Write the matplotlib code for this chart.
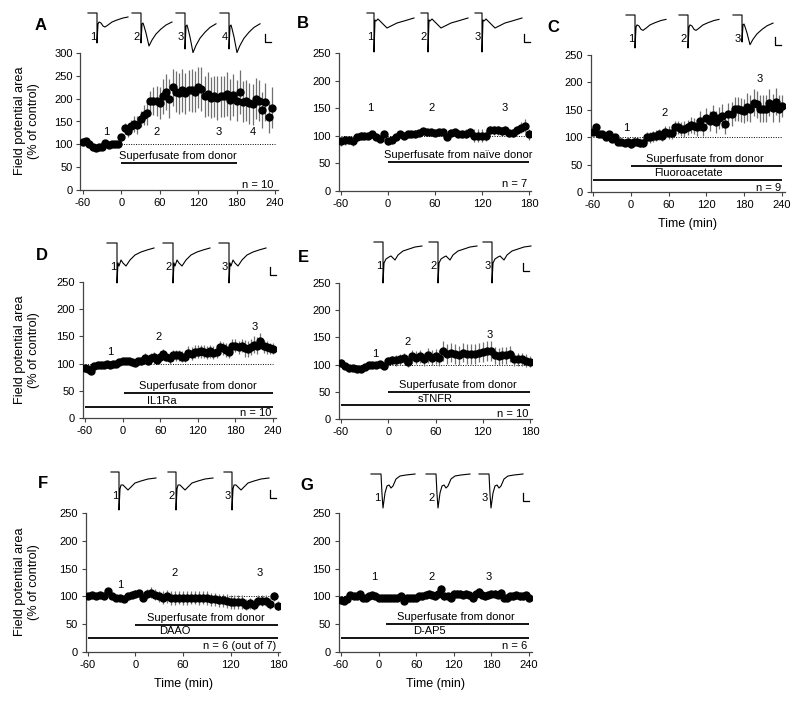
import numpy as np
import matplotlib
matplotlib.use('Agg')
import matplotlib.pyplot as plt

plt.rcParams['font.family'] = ['Liberation Sans', 'DejaVu Sans']
plt.rcParams['font.size'] = 7.5
plt.rcParams['axes.unicode_minus'] = False

# ---- time grids (sampling every 5 min) ----
t_240 = np.arange(-60, 245, 5)
t_180 = np.arange(-60, 185, 5)
t_A = np.arange(-60, 240, 5)

# ---- data: mean field potential area (% of control) and s.e.m. ----
A_val = [105, 107, 100, 95, 93, 95, 95, 102, 98, 100, 100, 100,
         115, 135, 130, 140, 145, 142, 155, 165, 168, 195,
         195, 195, 190, 205, 215, 200, 225, 215, 212, 218,
         212, 218, 218, 215, 225, 222, 205, 210, 202, 205,
         202, 205, 205, 210, 198, 208, 195, 215, 193, 195,
         190, 188, 200, 195, 175, 193, 160, 180]
A_err = [8, 7, 5, 6, 5, 6, 5, 6, 5, 5, 5, 5,
         8, 12, 15, 14, 18, 20, 18, 22, 25, 22,
         30, 32, 35, 38, 40, 42, 40, 45, 45, 48,
         45, 45, 48, 45, 45, 48, 45, 48, 45, 45,
         48, 45, 45, 48, 45, 45, 45, 48, 45, 45,
         45, 45, 45, 45, 40, 42, 35, 45]

B_val = [90, 92, 93, 90, 97, 100, 100, 100, 103, 97, 95, 103,
         90, 93, 98, 103, 100, 104, 103, 104, 105, 108,
         106, 106, 105, 107, 107, 98, 105, 106, 104, 103,
         104, 106, 100, 100, 100, 100, 110, 110, 110, 108,
         110, 105, 105, 110, 115, 118, 103]
B_err = [8, 8, 7, 8, 6, 6, 5, 5, 5, 5, 5, 6,
         6, 6, 6, 6, 5, 5, 5, 6, 6, 6,
         6, 6, 6, 6, 6, 6, 6, 6, 7, 7,
         8, 8, 12, 12, 12, 10, 8, 8, 8, 8,
         8, 8, 8, 8, 10, 12, 10]

C_val = [110, 118, 105, 105, 100, 105, 97, 100, 92, 91, 90, 92,
         88, 92, 92, 90, 90, 100, 100, 102, 103, 105,
         103, 110, 108, 108, 118, 118, 115, 115, 118, 122,
         120, 118, 130, 118, 135, 130, 140, 128, 135, 138,
         125, 143, 143, 152, 152, 150, 148, 155, 152, 163,
         160, 152, 152, 152, 163, 153, 165, 152, 157]
C_err = [6, 6, 5, 5, 5, 5, 5, 5, 6, 6, 6, 6,
         8, 8, 8, 8, 8, 10, 10, 10, 10, 10,
         10, 10, 12, 12, 12, 12, 12, 14, 14, 15,
         15, 15, 18, 15, 18, 18, 18, 20, 20, 22,
         20, 20, 22, 22, 22, 22, 22, 25, 25, 25,
         25, 25, 25, 25, 25, 25, 25, 25, 20]

D_val = [92, 90, 87, 95, 98, 98, 97, 100, 97, 100, 100, 103,
         105, 105, 104, 103, 102, 105, 105, 110, 105, 110,
         112, 107, 113, 118, 113, 110, 115, 115, 115, 113,
         113, 120, 118, 122, 122, 123, 122, 120, 123, 120,
         122, 130, 128, 125, 122, 133, 133, 130, 133, 128,
         127, 130, 135, 133, 142, 132, 130, 128, 127]
D_err = [5, 5, 5, 5, 5, 5, 5, 5, 5, 5, 5, 5,
         5, 5, 5, 5, 6, 6, 8, 10, 8, 10,
         10, 8, 10, 8, 8, 10, 10, 10, 10, 10,
         10, 12, 12, 12, 12, 12, 12, 12, 12, 12,
         12, 12, 12, 12, 12, 12, 12, 12, 12, 15,
         15, 15, 15, 15, 15, 12, 12, 10, 10]

E_val = [103, 97, 93, 93, 91, 92, 95, 100, 100, 100, 102, 97,
         106, 108, 108, 110, 112, 105, 115, 113, 115, 110,
         117, 113, 115, 112, 125, 120, 122, 120, 117, 122,
         120, 120, 120, 122, 123, 125, 125, 117, 115, 117,
         117, 120, 110, 110, 110, 107, 105]
E_err = [8, 6, 6, 5, 5, 5, 5, 5, 5, 5, 5, 5,
         8, 8, 10, 10, 10, 10, 12, 12, 12, 12,
         14, 14, 14, 14, 18, 18, 18, 18, 18, 18,
         18, 18, 18, 18, 18, 18, 18, 15, 15, 15,
         15, 15, 12, 12, 12, 12, 10]

F_val = [100, 102, 100, 102, 100, 110, 100, 98, 97, 95, 100, 103,
         105, 106, 98, 105, 107, 103, 100, 98, 100, 97,
         97, 98, 97, 97, 98, 98, 97, 98, 97, 95,
         95, 93, 93, 92, 90, 90, 90, 90, 85, 88,
         85, 92, 92, 92, 87, 100, 83]
F_err = [5, 5, 5, 5, 5, 5, 5, 5, 5, 5, 5, 5,
         6, 6, 6, 8, 10, 10, 10, 12, 12, 12,
         12, 12, 12, 12, 12, 12, 12, 12, 12, 12,
         12, 12, 12, 12, 12, 12, 12, 12, 10, 10,
         10, 10, 10, 10, 10, 8, 8]

G_val = [93, 92, 95, 103, 100, 100, 105, 97, 97, 100, 102, 100,
         97, 97, 98, 97, 98, 97, 97, 100, 92, 97,
         97, 97, 97, 100, 100, 103, 105, 103, 100, 105,
         113, 100, 100, 98, 105, 105, 105, 103, 105, 102,
         97, 105, 108, 103, 100, 102, 105, 105, 103, 107,
         97, 98, 100, 100, 102, 100, 100, 102, 98]
G_err = [6, 6, 5, 5, 5, 5, 5, 5, 5, 5, 5, 5,
         5, 5, 5, 5, 5, 5, 5, 6, 6, 6,
         6, 6, 6, 6, 6, 6, 6, 6, 6, 6,
         7, 6, 6, 6, 6, 6, 6, 6, 6, 6,
         6, 6, 7, 6, 6, 6, 6, 6, 6, 6,
         6, 6, 6, 6, 6, 6, 6, 6, 6]

# ---- example field potential traces (relative px, y downward) ----
trace_small_x = [-9, 0, 0, 1, 2, 4, 6, 8, 11, 15, 20, 26, 31]
trace_small_y = [0, 0, 30, 11, 9, 10, 13, 14, 12, 9, 7, 5, 4]
trace_naive_x = [-7, 0, 0, 1, 2, 4, 7, 10, 13, 17, 23, 30, 40]
trace_naive_y = [0, 0, 39, 7, 8, 6, 9, 12, 15, 13, 10, 8, 5]
trace_ltp_x = [-9, 0, 0, 1, 2, 3, 5, 8, 11, 15, 20, 25, 31]
trace_ltp_y = [0, 0, 30, 11, 10, 13, 20, 33, 27, 21, 16, 12, 9]
trace_il_x = [-10, 0, 0, 1, 2, 4, 6, 9, 13, 18, 24, 30, 37]
trace_il_y = [0, 0, 40, 20, 23, 17, 20, 23, 17, 12, 9, 7, 5]
trace_tnf_x = [-9, 0, 0, 1, 3, 6, 8, 10, 12, 15, 20, 26, 32, 39]
trace_tnf_y = [0, 0, 41, 21, 17, 15, 14, 16, 18, 13, 9, 7, 5, 4]
trace_daao_x = [-8, 0, 0, 1, 2, 4, 6, 9, 12, 16, 22, 29, 37]
trace_daao_y = [0, 0, 38, 17, 13, 13, 15, 18, 15, 11, 9, 7, 6]
trace_ap5_x = [-10, 0, 1, 2, 4, 6, 8, 10, 12, 15, 19, 25, 34]
trace_ap5_y = [0, 0, 20, 34, 19, 12, 11, 14, 12, 5, 2, 1, 0]

fig = plt.figure(figsize=(8, 7.05), dpi=100)
W, H = 800, 705


def px_rect(left, right, top, bottom):
    return [left / W, (H - bottom) / H, (right - left) / W, (bottom - top) / H]


def panel(rect, t, val, err, xmax, ymax, dot_start=-60):
    ax = fig.add_axes(rect)
    ax.plot([dot_start, xmax], [100, 100], ls=(0, (1, 1.5)), color='k', lw=0.7, zorder=1)
    ax.errorbar(t, val, yerr=err, fmt='o', color='k', ms=5, ecolor='#707070',
                elinewidth=0.9, capsize=0, zorder=3)
    ax.set_xlim(-64 if xmax == 240 else -63, xmax + 4 if xmax == 240 else xmax + 3)
    ax.set_ylim(0, ymax)
    ax.set_xticks(np.arange(-60, xmax + 1, 60))
    ax.set_yticks(np.arange(0, ymax + 1, 50))
    for s in ['top', 'right']:
        ax.spines[s].set_visible(False)
    for s in ['left', 'bottom']:
        ax.spines[s].set_color('#444444')
        ax.spines[s].set_linewidth(0.9)
    ax.tick_params(direction='out', length=3, width=0.8, color='#444444',
                   labelsize=8, pad=2.5)
    ax.patch.set_alpha(0)
    return ax


def bar(ax, x0, x1, y, label, lx, ly):
    ax.plot([x0, x1], [y, y], color='k', lw=1.3, solid_capstyle='butt')
    ax.text(lx, ly, label, ha='center', va='center', fontsize=8)


def nums(ax, xs, y):
    for i, x in enumerate(xs):
        ax.text(x, y, str(i + 1), ha='center', va='center', fontsize=8)


# overlay in pixel coords for traces, letters and y labels
ov = fig.add_axes([0, 0, 1, 1])
ov.set_xlim(0, W)
ov.set_ylim(H, 0)
ov.axis('off')


def trace(x0, y0, sx, sy, yscale=1.0, label=None):
    xs = [x0 + v for v in sx]
    ys = [y0 + v * yscale for v in sy]
    ov.plot(xs, ys, color='k', lw=0.8)
    if label:
        ov.text(x0 - 4, y0 + 24, label, ha='center', va='center', fontsize=8)


def scalebar(x, y):
    ov.plot([x, x, x + 6], [y - 8, y, y], color='k', lw=0.9)


# ---------- Panel A ----------
axA = panel(px_rect(80.4, 277.6, 53, 190), t_A, A_val, A_err, 240, 300, dot_start=0)
nums(axA, [-23, 55, 152, 206], 126)
bar(axA, 0, 180, 60, 'Superfusate from donor', 89, 75)
axA.text(237, 12, 'n = 10', ha='right', va='center', fontsize=8)
trace(97, 13, trace_small_x, trace_small_y, label='1')
trace(141, 13, trace_ltp_x, trace_ltp_y, label='2')
trace(185, 13, trace_ltp_x, trace_ltp_y, 1.2, label='3')
trace(229, 13, trace_ltp_x, trace_ltp_y, 1.2, label='4')
scalebar(265, 42)

# ---------- Panel B ----------
axB = panel(px_rect(338.6, 531.3, 53, 191), t_180, B_val, B_err, 180, 250)
nums(axB, [-23, 56, 149], 150)
bar(axB, 0, 180, 52, 'Superfusate from na\u00efve donor', 90, 65)
axB.text(178, 12, 'n = 7', ha='right', va='center', fontsize=8)
for i, x in enumerate([374, 428, 482]):
    trace(x, 13, trace_naive_x, trace_naive_y, label=str(i + 1))
scalebar(524, 42)

# ---------- Panel C ----------
axC = panel(px_rect(590.5, 784.5, 55, 192), t_240, C_val, C_err, 240, 250)
axC.text(-8, 117, '1', ha='center', va='center', fontsize=8)
axC.text(54, 144, '2', ha='center', va='center', fontsize=8)
axC.text(204, 207, '3', ha='center', va='center', fontsize=8)
bar(axC, 0, 240, 48, 'Superfusate from donor', 118, 60)
bar(axC, -60, 240, 22, 'Fluoroacetate', 92, 35)
axC.text(238, 8, 'n = 9', ha='right', va='center', fontsize=8)
axC.set_xlabel('Time (min)', fontsize=9, labelpad=6)
trace(635, 15, trace_small_x, trace_small_y, 1.1, label='1')
trace(688, 15, trace_small_x, trace_small_y, 1.1, label='2')
trace(742, 15, trace_ltp_x, trace_ltp_y, 0.9, label='3')
scalebar(775, 45)

# ---------- Panel D ----------
axD = panel(px_rect(82.5, 275.5, 282, 418), t_240, D_val, D_err, 240, 250)
axD.text(-19, 121, '1', ha='center', va='center', fontsize=8)
axD.text(58, 149, '2', ha='center', va='center', fontsize=8)
axD.text(210, 168, '3', ha='center', va='center', fontsize=8)
bar(axD, 3, 240, 46, 'Superfusate from donor', 120, 59)
bar(axD, -60, 240, 21, 'IL1Ra', 63, 32)
axD.text(237, 9, 'n = 10', ha='right', va='center', fontsize=8)
for i, x in enumerate([117, 173, 229]):
    trace(x, 243, trace_il_x, trace_il_y, label=str(i + 1))
scalebar(270, 275)

# ---------- Panel E ----------
axE = panel(px_rect(338.6, 532.4, 283, 419), t_180, E_val, E_err, 180, 250)
axE.text(-16, 120, '1', ha='center', va='center', fontsize=8)
axE.text(25, 141, '2', ha='center', va='center', fontsize=8)
axE.text(129, 155, '3', ha='center', va='center', fontsize=8)
bar(axE, 0, 180, 50, 'Superfusate from donor', 88, 63)
bar(axE, -60, 180, 26, 'sTNFR', 60, 37)
axE.text(178, 10, 'n = 10', ha='right', va='center', fontsize=8)
for i, x in enumerate([383, 438, 492]):
    trace(x, 242, trace_tnf_x, trace_tnf_y, label=str(i + 1))
scalebar(523, 271)

# ---------- Panel F ----------
axF = panel(px_rect(85.6, 280.4, 513, 652), t_180, F_val, F_err, 180, 250)
axF.text(-19, 120, '1', ha='center', va='center', fontsize=8)
axF.text(49, 142, '2', ha='center', va='center', fontsize=8)
axF.text(157, 142, '3', ha='center', va='center', fontsize=8)
bar(axF, 0, 180, 49, 'Superfusate from donor', 89, 61)
bar(axF, -60, 180, 25, 'DAAO', 50, 37)
axF.text(178, 10, 'n = 6 (out of 7)', ha='right', va='center', fontsize=8)
axF.set_xlabel('Time (min)', fontsize=9, labelpad=6)
for i, x in enumerate([119, 176, 232]):
    trace(x, 472, trace_daao_x, trace_daao_y, label=str(i + 1))
scalebar(270, 498)

# ---------- Panel G ----------
axG = panel(px_rect(338.5, 531.5, 513, 652), t_240, G_val, G_err, 240, 250)
nums(axG, [-7, 84, 175], 134)
bar(axG, 12, 240, 51, 'Superfusate from donor', 123, 63)
bar(axG, -60, 240, 25, 'D-AP5', 81, 38)
axG.text(238, 10, 'n = 6', ha='right', va='center', fontsize=8)
axG.set_xlabel('Time (min)', fontsize=9, labelpad=6)
for i, x in enumerate([381, 436, 489]):
    trace(x, 474, trace_ap5_x, trace_ap5_y, label=str(i + 1))
scalebar(523, 501)

# panel letters and y labels
for letter, x, y in [('A', 41, 25), ('B', 303, 24), ('C', 553, 27), ('D', 42, 255),
                     ('E', 303, 257), ('F', 43, 483), ('G', 307, 485)]:
    ov.text(x, y, letter, ha='center', va='center', fontsize=12, fontweight='bold',
            family=['Liberation Sans Narrow', 'Liberation Sans'])

for yc in [121, 350, 582]:
    ov.text(27, yc, 'Field potential area\n(% of control)', rotation=90,
            ha='center', va='center', multialignment='center', fontsize=9.2,
            linespacing=1.15)

plt.savefig('out.png', dpi=100)
